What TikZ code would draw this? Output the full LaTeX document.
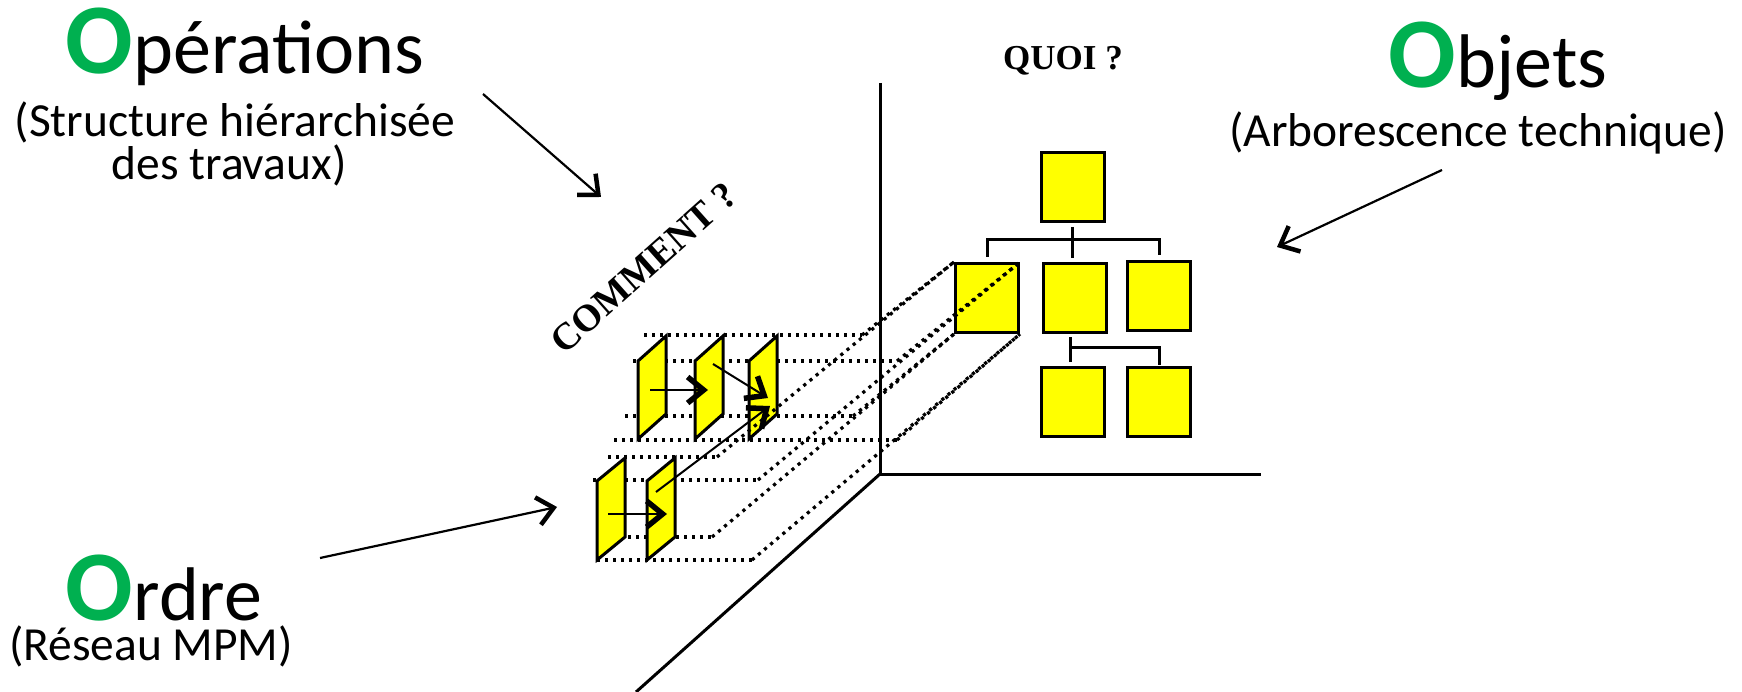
\documentclass[tikz,border=0pt]{standalone}
\usepackage{fontspec}
\setmainfont{Carlito}
\newfontfamily\timesfam{Liberation Serif}
\usetikzlibrary{arrows.meta,calc}
\definecolor{ogreen}{HTML}{00B050}
\definecolor{oyellow}{HTML}{FFFF00}
\newcommand\bigini[1]{{\fontsize{100}{100}\selectfont\bfseries\color{ogreen}#1}}
\newcommand\bigrest[1]{{\fontsize{76}{76}\selectfont #1}}
\newcommand\mysub{\fontsize{47.5}{57}\selectfont}
\newcommand\myquoi{\timesfam\bfseries\fontsize{35}{40}\selectfont}
\newcommand\mycomm{\timesfam\bfseries\fontsize{38}{42}\selectfont}
\newcommand\mypara[5]{%
  \draw[pbox] (#1,#2) -- (#1+28,#3) -- (#1+28,#4) -- (#1,#5) -- cycle;}
\tikzset{
  axis/.style={line width=3pt},
  box/.style={draw, line width=3pt, fill=oyellow, minimum width=63pt, minimum height=69pt, inner sep=0pt},
  tree/.style={line width=3pt},
  pbox/.style={draw, line width=3pt, fill=oyellow, line join=miter},
  dots/.style={line width=3.2pt, dash pattern=on 3.2pt off 4.8pt},
  flow/.style={line width=2pt, -{Straight Barb[length=16pt,width=26pt,line width=5.5pt]}},
  pointer/.style={line width=2.2pt, -{Straight Barb[length=16pt,width=28pt,line width=4.5pt]}},
  txt/.style={inner sep=0pt, anchor=base},
}
\begin{document}
\begin{tikzpicture}[x=1pt,y=-1pt]
\useasboundingbox (0,0) rectangle (1742,692);

% axes
\coordinate (origin) at (880,474);
\coordinate (ytop) at (880,83);
\coordinate (xend) at (1261,474);
\coordinate (zend) at (636,692);
\draw[axis] (ytop) -- (origin) -- (xend);
\draw[axis] (origin) -- (zend);

% dotted horizontals (behind the shapes)
\coordinate (ha0) at (644,335); \coordinate (ha1) at (862,335);
\coordinate (hb0) at (633,361); \coordinate (hb1) at (897,361);
\coordinate (hc0) at (625,416); \coordinate (hc1) at (853,416);
\coordinate (hd0) at (614,440); \coordinate (hd1) at (897,440);
\coordinate (he0) at (608,457); \coordinate (he1) at (717,457);
\coordinate (hf0) at (593,480); \coordinate (hf1) at (758,480);
\coordinate (hg0) at (628,537); \coordinate (hg1) at (712,537);
\coordinate (hh0) at (597,560); \coordinate (hh1) at (752,560);
\foreach \n in {a,b,c,d,e,f,g,h}{\draw[dots] (h\n0) -- (h\n1);}

% parallelograms
\mypara{638}{361}{336}{414}{439}
\mypara{695}{361}{336}{414}{439}
\mypara{749}{361}{336}{414}{439}
\mypara{597}{481}{458}{537}{560}
\mypara{647}{481}{458}{537}{560}

% tree boxes
\node[box] (T)  at (1072.5,187) {};
\node[box] (M1) at (987,298) {};
\node[box] (M2) at (1074.5,298) {};
\node[box] (M3) at (1159,296.5) {};
\node[box] (B1) at (1072.5,401.5) {};
\node[box] (B2) at (1159,401.5) {};

\draw[tree, shorten <=4pt, shorten >=4pt] (T.south) -- (T.south |- M2.north);
\draw[tree] ($(M1.north)+(0,-5)$) -- ($(M1.north)+(0,-22)$) -| ($(M3.north)+(0,-5)$);
\draw[tree] ($(B1.north)+(-2,-4)$) -- ($(B1.north)+(-2,-28)$);
\draw[tree] ($(B1.north)+(-2,-18)$) -| ($(B2.north)+(0,-1)$);

% dotted diagonals
\draw[dots] (ha1) -- (M1.north west);
\draw[dots] (hb1) -- (M1.north east);
\draw[dots] (hc1) -- (M1.south west);
\draw[dots] (hd1) -- (M1.south east);
\draw[dots] (he1) -- (M1.north west);
\draw[dots] (hf1) -- (M1.north east);
\draw[dots] (hg1) -- (M1.south west);
\draw[dots] (hh1) -- (M1.south east);

% arrows between parallelograms
\coordinate (a12s) at (650,390); \coordinate (a12e) at (708,390);
\coordinate (a23s) at (713,364); \coordinate (a23e) at (768,398);
\coordinate (a53s) at (656,492); \coordinate (a53e) at (770,406);
\coordinate (a45s) at (608,514); \coordinate (a45e) at (667,514);
\draw[flow] (a12s) -- (a12e);
\draw[flow] (a23s) -- (a23e);
\draw[flow] (a53s) -- (a53e);
\draw[flow] (a45s) -- (a45e);

% texts
\node[txt] (ops) at (245,74) {\bigini{O}\bigrest{pérations}};
\node[txt, font=\mysub] (ops2) at (235,137) {(Structure hiérarchisée};
\node[txt, font=\mysub] (ops3) at (229,180) {des travaux)};
\node[txt] (obj) at (1498,88) {\bigini{O}\bigrest{bjets}};
\node[txt, font=\mysub] (obj2) at (1478,147) {(Arborescence technique)};
\node[txt] (ord) at (164,620) {\bigini{O}\bigrest{rdre}};
\node[txt, font=\mysub] (ord2) at (151,660) {(Réseau MPM)};
\node[txt, font=\myquoi] (quoi) at (1063,70) {QUOI ?};
\node[font=\mycomm, rotate=41.7, inner sep=0pt] (comment) at (644,268) {COMMENT ?};

% pointer arrows
\coordinate (opA) at (483,94);  \coordinate (opB) at (601,197);
\coordinate (obA) at (1442,170); \coordinate (obB) at (1277,247);
\coordinate (orA) at (320,558); \coordinate (orB) at (557,507);
\draw[pointer] (opA) -- (opB);
\draw[pointer] (obA) -- (obB);
\draw[pointer] (orA) -- (orB);
\end{tikzpicture}
\end{document}
